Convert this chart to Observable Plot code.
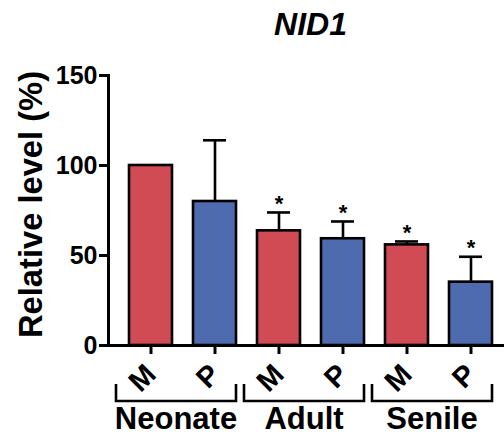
<!DOCTYPE html>
<html><head><meta charset="utf-8">
<script src="https://cdn.jsdelivr.net/npm/d3@7"></script>
<script src="https://cdn.jsdelivr.net/npm/@observablehq/plot@0.6"></script>
<style>
body{margin:0;background:#fff}
svg{font-family:"Liberation Sans",Arial,sans-serif;overflow:visible}
</style>
</head><body><div id="chart"></div>
<script>
// ---- data ----
const title = "NID1";
const yLabel = "Relative level (%)";
const groups = ["Neonate", "Adult", "Senile"];
const kinds = ["M", "P"];
const means = [100, 80, 63.7, 59.3, 55.9, 35.2];
const sems  = [0, 34, 10.2, 9.6, 1.9, 14.1];
const marks = ["", "", "*", "*", "*", "*"];
const yTicks = [0, 50, 100, 150];
const kindColors = ["#d04b53", "#4d6bae"];

const data = means.map((m, i) => ({
  group: groups[Math.floor(i / 2)],
  kind: kinds[i % 2],
  key: groups[Math.floor(i / 2)] + "-" + kinds[i % 2],
  mean: m,
  sem: sems[i],
  star: marks[i]
}));
const keys = data.map(d => d.key);

// group brackets and group names, placed with the plot's own x/y scales
function groupBrackets(index, scales, values, dims) {
  const {x, y} = scales;
  const bw = x.bandwidth();
  const g = d3.create("svg:g");
  const y0 = y(0);
  for (const grp of groups) {
    const left = x(grp + "-M") - 13;
    const right = x(grp + "-P") + bw;
    g.append("path")
      .attr("d", `M${left},${y0 + 39}V${y0 + 56}H${right}V${y0 + 39}`)
      .attr("fill", "none").attr("stroke", "black").attr("stroke-width", 2.6);
    g.append("text")
      .attr("x", (left + right) / 2).attr("y", y0 + 84)
      .attr("text-anchor", "middle")
      .attr("font-size", 31).attr("font-weight", "bold")
      .attr("fill", "black")
      .text(grp);
  }
  return g.node();
}

const chart = Plot.plot({
  width: 504,
  height: 436,
  marginLeft: 108,
  marginRight: 0,
  marginTop: 75,
  marginBottom: 91,
  x: {domain: keys, range: [108, 513], padding: 0.328, axis: null},
  y: {domain: [0, 150], axis: null},
  color: {domain: kinds, range: kindColors},
  marks: [
    Plot.barY(data, {x: "key", y: "mean", fill: "kind", stroke: "black", strokeWidth: 2.6}),
    Plot.ruleX(data.filter(d => d.sem > 0), {x: "key", y1: "mean", y2: d => d.mean + d.sem, stroke: "black", strokeWidth: 2.6}),
    Plot.tickY(data.filter(d => d.sem > 0), {x: "key", y: d => d.mean + d.sem, stroke: "black", strokeWidth: 2.6, insetLeft: 10, insetRight: 10}),
    Plot.text(data, {x: "key", y: d => d.mean + d.sem, text: "star", dy: -9, fontSize: 22, fontWeight: "bold", fill: "black"}),
    Plot.ruleY([0], {stroke: "black", strokeWidth: 3}),
    Plot.frame({anchor: "left", stroke: "black", strokeWidth: 3}),
    Plot.axisY({ticks: yTicks, tickSize: 9, tickPadding: 2, fontSize: 25, fontWeight: "bold", strokeWidth: 3, label: null, color: "black"}),
    Plot.axisX({tickSize: 9, tickPadding: 15, tickRotate: -45, fontSize: 29, fontWeight: "bold", strokeWidth: 3, label: null, color: "black", tickFormat: d => d.split("-")[1]}),
    Plot.text([title], {frameAnchor: "top", lineAnchor: "middle", dx: 4, dy: -51, fontSize: 32, fontWeight: "bold", fontStyle: "italic", fill: "black"}),
    Plot.text([yLabel], {frameAnchor: "left", textAnchor: "middle", lineAnchor: "middle", dx: -77, dy: -6, rotate: -90, fontSize: 32.7, fontWeight: "bold", fill: "black"}),
    groupBrackets
  ]
});
document.getElementById("chart").appendChild(chart);
</script>
</body></html>
